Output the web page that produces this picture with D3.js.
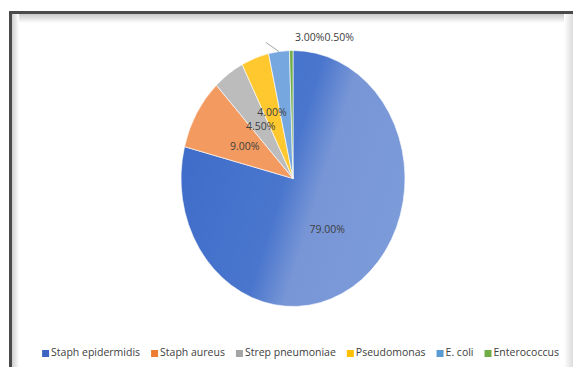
<!DOCTYPE html>
<html>
<head>
<meta charset="utf-8">
<script src="https://cdn.jsdelivr.net/npm/d3@7"></script>
<style>
  body { margin: 0; background: #fff; }
  svg { display: block; }
  text { font-family: "Open Sans", "Liberation Sans", sans-serif; }
</style>
</head>
<body>
<div id="chart"></div>
<script>
// chart data
var categories = ["Staph epidermidis", "Staph aureus", "Strep pneumoniae", "Pseudomonas", "E. coli", "Enterococcus"];
var values = [79.0, 9.0, 4.5, 4.0, 3.0, 0.5];
var sliceColors = ["url(#blueGrad)", "#f29a5f", "#bcbcbc", "#ffc82e", "#76a7df", "#70ad47"];
var legendColors = ["#3d64c2", "#ed7d31", "#a5a5a5", "#ffc000", "#5b9bd5", "#70ad47"];

var svgWidth = 573;
var svgHeight = 367;

var svg = d3.select("#chart")
  .append("svg")
  .attr("width", svgWidth)
  .attr("height", svgHeight);

var defs = svg.append("defs");

// gradient on the big slice (darker left, lighter right)
var g1 = defs.append("linearGradient")
  .attr("id", "blueGrad")
  .attr("gradientUnits", "userSpaceOnUse")
  .attr("x1", -112).attr("y1", -40)
  .attr("x2", 112).attr("y2", 40);
g1.append("stop").attr("offset", "0").attr("stop-color", "#3e6cc9");
g1.append("stop").attr("offset", "0.47").attr("stop-color", "#4a76cd");
g1.append("stop").attr("offset", "0.62").attr("stop-color", "#7896d6");
g1.append("stop").attr("offset", "1").attr("stop-color", "#7c9bd9");

// frame shadows
var topShade = defs.append("linearGradient").attr("id", "topShade")
  .attr("x1", 0).attr("y1", 0).attr("x2", 0).attr("y2", 1);
topShade.append("stop").attr("offset", "0").attr("stop-color", "#c8c8c8");
topShade.append("stop").attr("offset", "1").attr("stop-color", "#ffffff");
var leftShade = defs.append("linearGradient").attr("id", "leftShade")
  .attr("x1", 0).attr("y1", 0).attr("x2", 1).attr("y2", 0);
leftShade.append("stop").attr("offset", "0").attr("stop-color", "#c8c8c8");
leftShade.append("stop").attr("offset", "1").attr("stop-color", "#ffffff");
var rightShade = defs.append("linearGradient").attr("id", "rightShade")
  .attr("x1", 0).attr("y1", 0).attr("x2", 1).attr("y2", 0);
rightShade.append("stop").attr("offset", "0").attr("stop-color", "#ffffff");
rightShade.append("stop").attr("offset", "1").attr("stop-color", "#dcdcdc");

svg.append("rect").attr("width", svgWidth).attr("height", svgHeight).attr("fill", "#fff");
svg.append("rect").attr("x", 11).attr("y", 14).attr("width", 560).attr("height", 9).attr("fill", "url(#topShade)");
svg.append("rect").attr("x", 11).attr("y", 14).attr("width", 8).attr("height", 353).attr("fill", "url(#leftShade)");
svg.append("rect").attr("x", 564).attr("y", 14).attr("width", 9).attr("height", 353).attr("fill", "url(#rightShade)");
svg.append("rect").attr("x", 9).attr("y", 11).attr("width", 564).attr("height", 3).attr("fill", "#4a4a4a");
svg.append("rect").attr("x", 9).attr("y", 11).attr("width", 3).attr("height", 356).attr("fill", "#4a4a4a");

// pie (the picture is stretched vertically, so scale y)
var cx = 293, cy = 178.5, radius = 112, stretch = 128 / 112;

var pie = d3.pie().sort(null).value(d => d);
var arcs = pie(values);
var arc = d3.arc().innerRadius(0).outerRadius(radius);
// label radius: the 4.00% label sits a little further out so it clears 4.50%
var labelR = d => d.value === 4 ? 62 : 56;
var labelPos = d => d3.arc().innerRadius(labelR(d)).outerRadius(labelR(d)).centroid(d);

var pieGroup = svg.append("g")
  .attr("transform", `translate(${cx}, ${cy}) scale(1, ${stretch})`);

pieGroup.selectAll("path")
  .data(arcs)
  .enter()
  .append("path")
  .attr("d", arc)
  .attr("fill", (d, i) => sliceColors[i])
  .attr("stroke", "#fff")
  .attr("stroke-width", 0.6);

var fmt = d => d3.format(".2f")(d) + "%";

// inside labels (slices large enough)
var inside = arcs.filter(d => d.value >= 4);
svg.selectAll(".inLabel")
  .data(inside)
  .enter()
  .append("text")
  .attr("class", "inLabel")
  .attr("x", d => cx + labelPos(d)[0])
  .attr("y", d => cy + labelPos(d)[1] * stretch)
  .attr("text-anchor", "middle")
  .attr("dy", "0.35em")
  .attr("font-size", "10.5px")
  .attr("fill", "#404040")
  .text(d => fmt(d.value));

// small slices: labels outside at the top
var outside = arcs.filter(d => d.value < 4);
var ecoli = outside[0];
var mid = (ecoli.startAngle + ecoli.endAngle) / 2;
var px = cx + Math.sin(mid) * radius;
var py = cy - Math.cos(mid) * radius * stretch;
svg.append("line")
  .attr("x1", px).attr("y1", py)
  .attr("x2", px - 13).attr("y2", py - 9)
  .attr("stroke", "#a6a6a6")
  .attr("stroke-width", 1);

svg.append("text")
  .attr("x", cx + 2)
  .attr("y", 37)
  .attr("dy", "0.35em")
  .attr("font-size", "10.5px")
  .attr("fill", "#404040")
  .text(outside.map(d => fmt(d.value)).join(""));

// legend
var legend = svg.append("g");
var items = legend.selectAll("g")
  .data(categories)
  .enter()
  .append("g");
items.append("rect")
  .attr("width", 7).attr("height", 7)
  .attr("y", -6)
  .attr("fill", (d, i) => legendColors[i]);
items.append("text")
  .attr("x", 9)
  .attr("font-size", "10.5px")
  .attr("fill", "#404040")
  .text(d => d);

var x = 0;
var gap = 11;
items.each(function() {
  var w = this.querySelector("text").getComputedTextLength() + 9;
  d3.select(this).attr("transform", `translate(${x}, 0)`);
  x += w + gap;
});
var total = x - gap;
legend.attr("transform", `translate(${300.5 - total / 2}, 356)`);
</script>
</body>
</html>
